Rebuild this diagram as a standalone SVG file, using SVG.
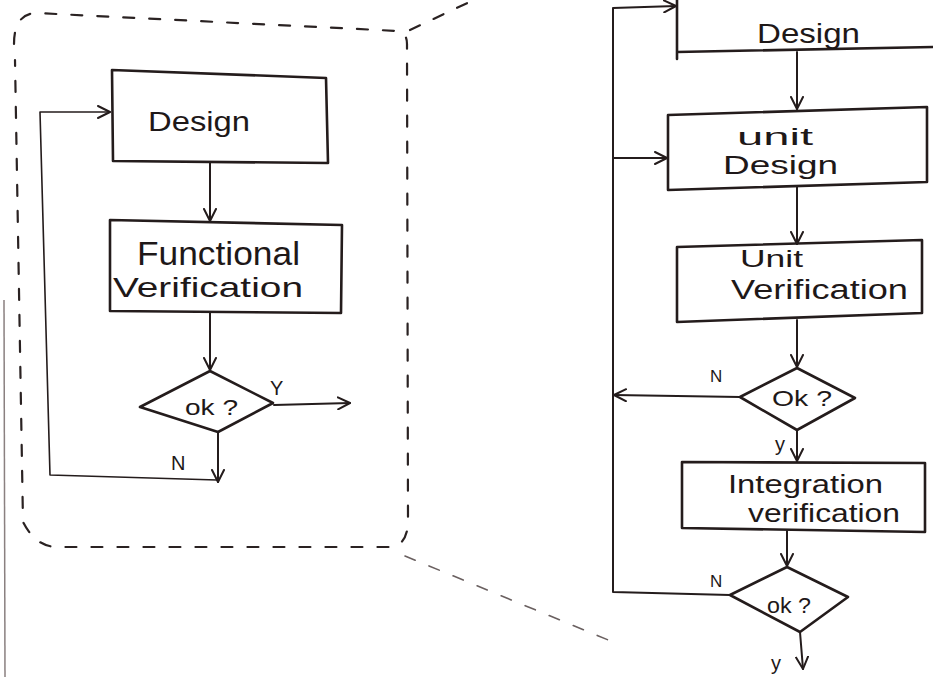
<svg xmlns="http://www.w3.org/2000/svg" width="933" height="677" viewBox="0 0 933 677">
  <defs>
    <marker id="arrow" viewBox="0 0 14 14" refX="13" refY="7" markerWidth="14" markerHeight="14" markerUnits="userSpaceOnUse" orient="auto">
      <path d="M1,1 L13,7 L1,13" fill="none" stroke="#241c1c" stroke-width="2" stroke-linecap="round" stroke-linejoin="round"/>
    </marker>
    <style>
      .box { fill: none; stroke: #241c1c; stroke-width: 2.6; stroke-linejoin: round; stroke-linecap: round; }
      .edge { fill: none; stroke: #241c1c; stroke-width: 2; stroke-linecap: round; stroke-linejoin: round; }
      .thin { stroke-width: 1.6; }
      .dash { fill: none; stroke: #2a2222; stroke-width: 2.2; stroke-dasharray: 11 15; stroke-linecap: round; }
      .faint { stroke: #6a6060; stroke-width: 1.6; }
      .lbl { font-family: "Liberation Sans", "DejaVu Sans", sans-serif; fill: #1e1818; }
    </style>
  </defs>
  <rect width="933" height="677" fill="#ffffff"/>

  <!-- page edge at the far left -->
  <line x1="4" y1="300" x2="5" y2="677" stroke="#8a8080" stroke-width="1.5"/>

  <!-- dashed outline around the first flow, and its projection lines -->
  <g id="zoom-outline">
    <path class="dash" d="M14,44 Q14,14 36,13 L398,31 Q407,33 407,44 L408,520 Q408,547 388,547 L56,547 Q35,546 23,522 L15,60"/>
    <path class="dash" d="M410,30 L478,-2"/>
    <path class="dash faint" d="M405,556 L618,644"/>
  </g>

  <!-- first flow: design + functional verification -->
  <g id="design-left">
    <path class="box" d="M112,70 L326,78 L328,163 L113,161 Z"/>
    <text class="lbl" x="148" y="131" font-size="28" textLength="102" lengthAdjust="spacingAndGlyphs">Design</text>
  </g>
  <g id="functional-verification">
    <path class="box" d="M110,220 L342,225 L341,313 L110,311 Z"/>
    <text class="lbl" x="137" y="265" font-size="34" textLength="163" lengthAdjust="spacingAndGlyphs">Functional</text>
    <text class="lbl" x="113" y="297" font-size="28" textLength="190" lengthAdjust="spacingAndGlyphs">Verification</text>
  </g>
  <g id="ok-left">
    <path class="box" d="M210,371 L273,403 L218,432 L140,407 Z"/>
    <text class="lbl" x="185" y="415" font-size="22" textLength="53" lengthAdjust="spacingAndGlyphs">ok ?</text>
  </g>

  <!-- second flow: design, unit design, unit verification, integration -->
  <g id="design-right">
    <path class="box" d="M677,-4 L677,59 M677,52 L933,47"/>
    <text class="lbl" x="757" y="43" font-size="28" textLength="103" lengthAdjust="spacingAndGlyphs">Design</text>
  </g>
  <g id="unit-design">
    <path class="box" d="M668,115 L927,107 L927,182 L668,190 Z"/>
    <text class="lbl" x="737" y="145" font-size="24" textLength="76" lengthAdjust="spacingAndGlyphs">unit</text>
    <text class="lbl" x="723" y="174" font-size="26" textLength="115" lengthAdjust="spacingAndGlyphs">Design</text>
  </g>
  <g id="unit-verification">
    <path class="box" d="M677,247 L922,240 L922,313 L677,322 Z"/>
    <text class="lbl" x="740" y="267" font-size="24" textLength="63" lengthAdjust="spacingAndGlyphs">Unit</text>
    <text class="lbl" x="731" y="299" font-size="27" textLength="177" lengthAdjust="spacingAndGlyphs">Verification</text>
  </g>
  <g id="ok-unit">
    <path class="box" d="M797,368 L855,398 L797,430 L740,397 Z"/>
    <text class="lbl" x="772" y="406" font-size="22" textLength="60" lengthAdjust="spacingAndGlyphs">Ok ?</text>
  </g>
  <g id="integration-verification">
    <path class="box" d="M682,462 L925,463 L925,532 L682,528 Z"/>
    <text class="lbl" x="728" y="493" font-size="25" textLength="155" lengthAdjust="spacingAndGlyphs">Integration</text>
    <text class="lbl" x="748" y="522" font-size="25" textLength="152" lengthAdjust="spacingAndGlyphs">verification</text>
  </g>
  <g id="ok-integration">
    <path class="box" d="M787,567 L848,597 L800,632 L730,595 Z"/>
    <text class="lbl" x="767" y="613" font-size="22" textLength="44" lengthAdjust="spacingAndGlyphs">ok ?</text>
  </g>

  <!-- connectors -->
  <g id="connectors">
    <path class="edge" d="M210,163 L210,221" marker-end="url(#arrow)"/>
    <path class="edge" d="M210,313 L210,370" marker-end="url(#arrow)"/>
    <path class="edge" d="M274,405 L350,403" marker-end="url(#arrow)"/>
    <path class="edge" d="M218,432 L218,482" marker-end="url(#arrow)"/>
    <path class="edge thin" d="M217,480 L50,475 L40,112 L110,112" marker-end="url(#arrow)"/>

    <path class="edge" d="M797,52 L797,109" marker-end="url(#arrow)"/>
    <path class="edge" d="M797,186 L797,244" marker-end="url(#arrow)"/>
    <path class="edge" d="M797,320 L797,367" marker-end="url(#arrow)"/>
    <path class="edge" d="M797,430 L797,461" marker-end="url(#arrow)"/>
    <path class="edge" d="M787,531 L787,566" marker-end="url(#arrow)"/>
    <path class="edge" d="M800,632 L803,669" marker-end="url(#arrow)"/>
    <path class="edge" d="M740,397 L614,395" marker-end="url(#arrow)"/>
    <path class="edge" d="M730,595 L613,592 L613,8 L676,6" marker-end="url(#arrow)"/>
    <path class="edge" d="M613,158 L667,158" marker-end="url(#arrow)"/>

    <text class="lbl" x="270" y="395" font-size="20">Y</text>
    <text class="lbl" x="171" y="470" font-size="20">N</text>
    <text class="lbl" x="710" y="382" font-size="17">N</text>
    <text class="lbl" x="775" y="451" font-size="20">y</text>
    <text class="lbl" x="710" y="587" font-size="17">N</text>
    <text class="lbl" x="771" y="670" font-size="20">y</text>
  </g>
</svg>
